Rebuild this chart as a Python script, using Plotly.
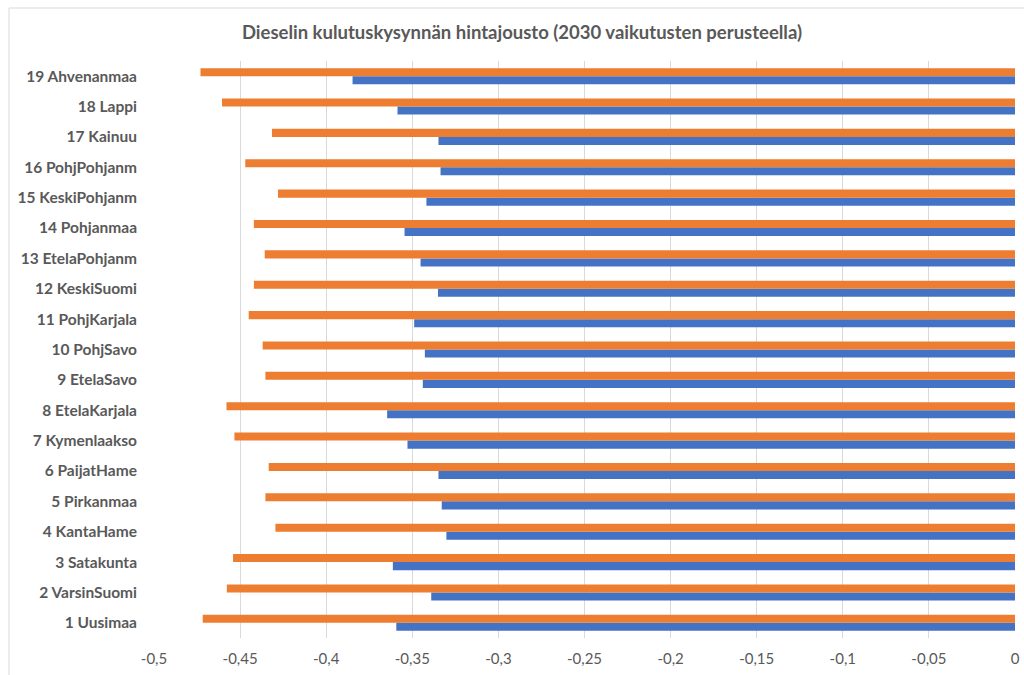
import plotly.graph_objects as go

regions = [
    "1 Uusimaa", "2 VarsinSuomi", "3 Satakunta", "4 KantaHame", "5 Pirkanmaa",
    "6 PaijatHame", "7 Kymenlaakso", "8 EtelaKarjala", "9 EtelaSavo", "10 PohjSavo",
    "11 PohjKarjala", "12 KeskiSuomi", "13 EtelaPohjanm", "14 Pohjanmaa",
    "15 KeskiPohjanm", "16 PohjPohjanm", "17 Kainuu", "18 Lappi", "19 Ahvenanmaa",
]

series_blue = [
    -0.3593, -0.3390, -0.3613, -0.3302, -0.3329, -0.3348, -0.3528, -0.3646, -0.3439, -0.3427,
    -0.3489, -0.3351, -0.3452, -0.3545, -0.3418, -0.3336, -0.3348, -0.3586, -0.3847,
]

series_orange = [
    -0.4717, -0.4577, -0.4541, -0.4295, -0.4353, -0.4334, -0.4533, -0.4579, -0.4353, -0.4369,
    -0.4450, -0.4420, -0.4357, -0.4420, -0.4280, -0.4470, -0.4315, -0.4605, -0.4730,
]

x_ticks = [-0.5, -0.45, -0.4, -0.35, -0.3, -0.25, -0.2, -0.15, -0.1, -0.05, 0]
x_tick_text = ["-0,5", "-0,45", "-0,4", "-0,35", "-0,3", "-0,25", "-0,2", "-0,15", "-0,1", "-0,05", "0"]

title_text = "Dieselin kulutuskysynnän hintajousto (2030 vaikutusten perusteella)"

FONT = "Lato, Carlito, Calibri, sans-serif"
GREY = "#595959"

fig = go.Figure()
fig.add_trace(go.Bar(y=regions, x=series_blue, orientation="h",
                     marker=dict(color="#4472C4", line=dict(width=0)), name="A"))
fig.add_trace(go.Bar(y=regions, x=series_orange, orientation="h",
                     marker=dict(color="#ED7D31", line=dict(width=0)), name="B"))

L, R, T, B = 154, 9, 61, 37
W, H = 1024, 675
pw, ph = W - L - R, H - T - B

fig.update_layout(
    width=W, height=H,
    margin=dict(l=L, r=R, t=T, b=B, autoexpand=False),
    paper_bgcolor="white", plot_bgcolor="white",
    barmode="group", bargap=0.47, bargroupgap=0,
    showlegend=False,
    font=dict(family=FONT, color=GREY, size=15),
    title=dict(text="<b>" + title_text + "</b>", x=522 / W, xanchor="center",
               y=1 - 33 / H, yanchor="middle",
               font=dict(family=FONT, size=18.5, color=GREY)),
    xaxis=dict(range=[-0.5, 0], tickvals=x_ticks, ticktext=x_tick_text,
               showgrid=True, gridcolor="#D9D9D9", gridwidth=1,
               zeroline=False, showline=False, ticks="", automargin=False,
               tickfont=dict(family=FONT, size=15, color=GREY),
               ticklabelstandoff=10),
    yaxis=dict(categoryorder="array", categoryarray=regions, automargin=False,
               showgrid=False, zeroline=False, showline=False, ticks="",
               tickfont=dict(family=FONT, size=15.5, color=GREY, weight="bold"),
               ticklabelstandoff=16),
)

# light outer frame around the chart area
fig.add_shape(type="rect", xref="paper", yref="paper",
              x0=(9 - L) / pw, x1=(W + 5 - L) / pw,
              y0=-(H + 5 - T - ph) / ph, y1=1 + (T - 8) / ph,
              line=dict(color="#D9D9D9", width=1), fillcolor="rgba(0,0,0,0)",
              layer="below")

fig.write_html("out.html")
